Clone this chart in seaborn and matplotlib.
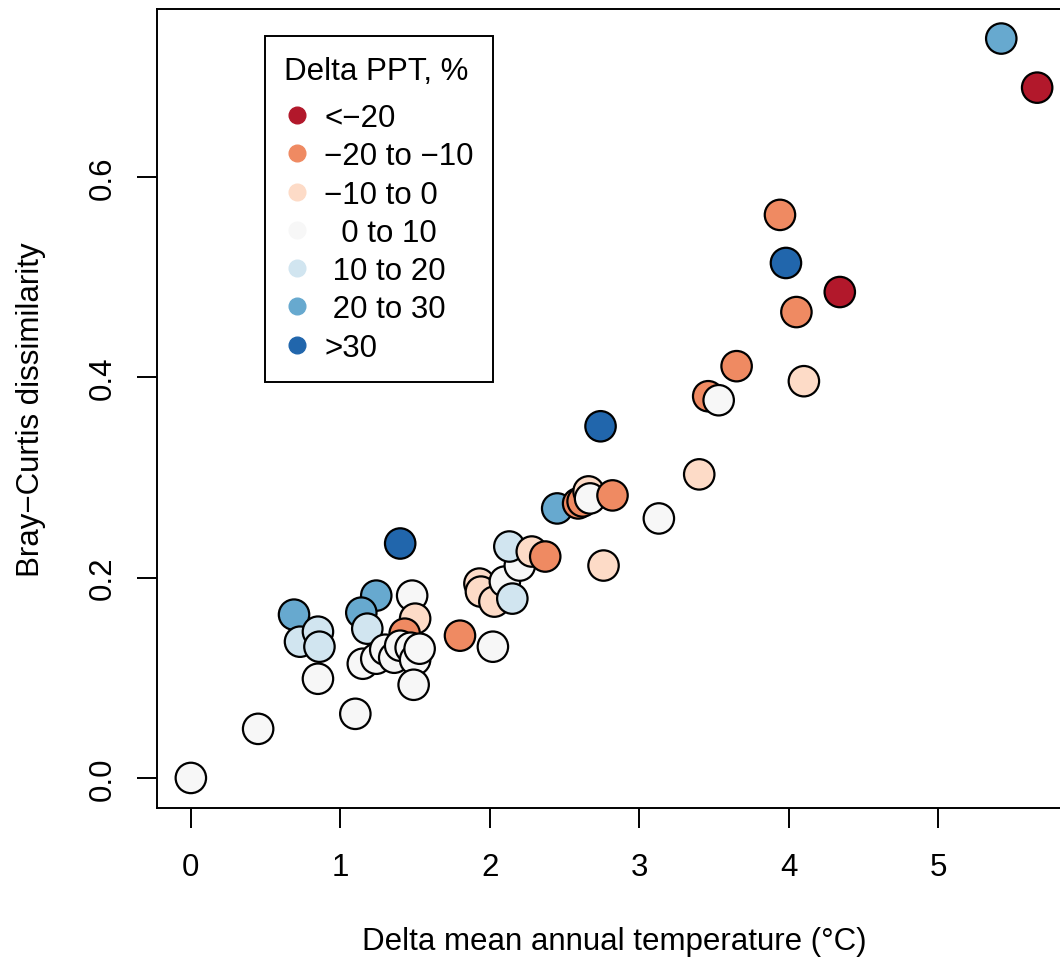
import matplotlib
matplotlib.use("Agg")
import matplotlib.pyplot as plt
from matplotlib.lines import Line2D
import seaborn as sns
import pandas as pd

# Precipitation change classes and their diverging colours
ppt_classes = ["<−20", "−20 to −10", "−10 to 0", "  0 to 10", " 10 to 20", " 20 to 30", ">30"]
ppt_colors = ["#B2182B", "#EF8A62", "#FDDBC7", "#F7F7F7", "#D1E5F0", "#67A9CF", "#2166AC"]

# Site pairs: temperature difference, community dissimilarity, precipitation class index
delta_temp = [
    0.00, 0.45, 1.10, 0.85,
    0.69, 0.73, 0.85, 0.86,
    1.40, 1.24, 1.14, 1.18,
    1.48, 1.50, 1.43, 1.37,
    1.15, 1.24, 1.30, 1.36, 1.40, 1.47, 1.50, 1.53, 1.49,
    1.80, 2.02, 1.93, 1.94, 2.03, 2.10, 2.15, 2.20, 2.13, 2.28, 2.37, 2.76,
    2.45, 2.59, 2.62, 2.66, 2.67, 2.82,
    2.74, 3.13, 3.40, 3.46, 3.53, 3.65, 4.10, 4.05, 3.94, 3.98, 4.34,
    5.42, 5.66,
]
bray_curtis = [
    0.000, 0.049, 0.064, 0.099,
    0.163, 0.136, 0.146, 0.131,
    0.234, 0.182, 0.165, 0.149,
    0.182, 0.159, 0.144, 0.125,
    0.114, 0.119, 0.128, 0.120, 0.132, 0.130, 0.118, 0.129, 0.093,
    0.142, 0.131, 0.194, 0.186, 0.176, 0.196, 0.179, 0.212, 0.231, 0.226, 0.221, 0.212,
    0.269, 0.274, 0.276, 0.286, 0.279, 0.282,
    0.351, 0.259, 0.303, 0.381, 0.377, 0.411, 0.396, 0.465, 0.562, 0.514, 0.485,
    0.738, 0.689,
]
ppt_class = [
    3, 3, 3, 3,
    5, 4, 4, 4,
    6, 5, 5, 4,
    3, 2, 1, 1,
    3, 3, 3, 3, 3, 3, 3, 3, 3,
    1, 3, 2, 2, 2, 3, 4, 3, 4, 2, 1, 2,
    5, 1, 1, 2, 3, 1,
    6, 3, 2, 1, 3, 1, 2, 1, 1, 6, 0,
    5, 0,
]

df = pd.DataFrame({
    "dT": delta_temp,
    "bc": bray_curtis,
    "ppt": [ppt_classes[i] for i in ppt_class],
})

plt.rcParams["font.family"] = ["Liberation Sans", "DejaVu Sans"]
fs = 22.5

fig = plt.figure(figsize=(10.6, 9.62), dpi=100)
ax = fig.add_axes([157 / 1060, (962 - 808.5) / 962, (1071 - 157) / 1060, (808.5 - 10) / 962])

sns.scatterplot(
    data=df, x="dT", y="bc", hue="ppt", hue_order=ppt_classes,
    palette=ppt_colors, s=480, edgecolor="black", linewidth=1.6,
    alpha=1, legend=False, ax=ax, zorder=3,
)

ax.set_xlim(-0.2264, 5.8864)
ax.set_ylim(-0.0295, 0.7675)
ax.set_xticks([0, 1, 2, 3, 4, 5])
ax.set_xticklabels(["0", "1", "2", "3", "4", "5"])
ax.set_yticks([0.0, 0.2, 0.4, 0.6])
ax.set_yticklabels(["0.0", "0.2", "0.4", "0.6"], rotation=90, va="center")
ax.tick_params(direction="out", length=14.4, width=1.4, labelsize=fs, color="black")
ax.tick_params(axis="x", pad=18)
ax.tick_params(axis="y", pad=14)
for sp in ax.spines.values():
    sp.set_linewidth(1.4)
    sp.set_color("black")
ax.set_xlabel("Delta mean annual temperature (°C)", fontsize=fs, labelpad=31)
ax.set_ylabel("Bray−Curtis dissimilarity", fontsize=fs, labelpad=30)

handles = [
    Line2D([], [], marker="o", linestyle="none", markersize=12,
           markerfacecolor=c, markeredgecolor=c)
    for c in ppt_colors
]
leg = ax.legend(
    handles, ppt_classes, title="Delta PPT, %", loc="upper left",
    bbox_to_anchor=(0.118, 0.966), fontsize=fs, title_fontsize=fs,
    frameon=True, fancybox=False, edgecolor="black", framealpha=1,
    handlelength=0.8, handletextpad=0.48, labelspacing=0.265,
    borderpad=0.62, borderaxespad=0, alignment="left",
)
leg.get_frame().set_linewidth(1.4)
# extra room between the legend title and its entries
leg._legend_box.sep = 12.6

fig.savefig("out.png", dpi=100)
